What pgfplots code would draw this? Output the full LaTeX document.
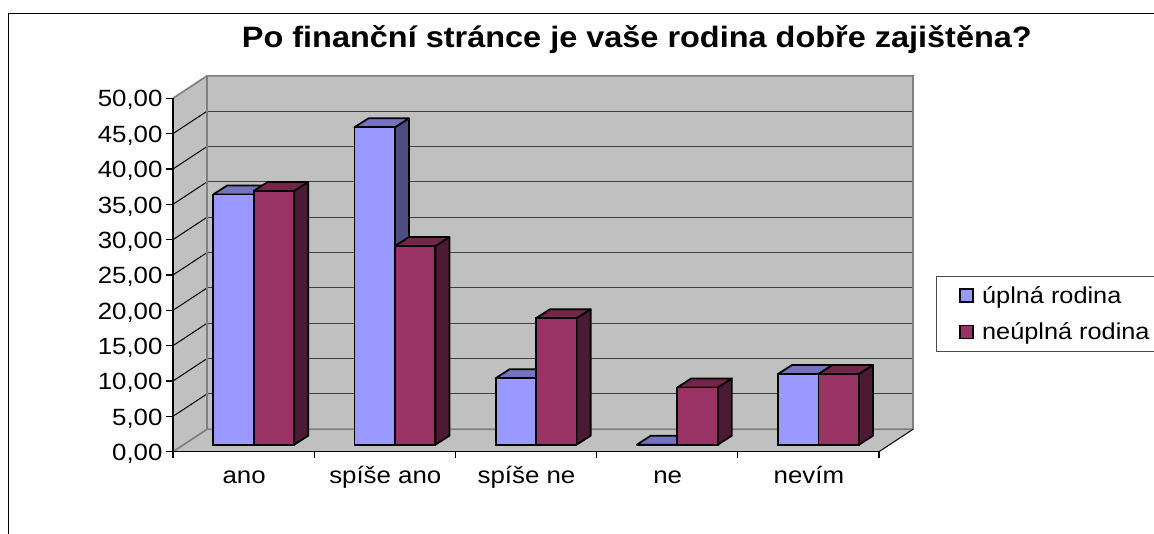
\documentclass[border=0pt]{standalone}
\usepackage{fontspec}
\setmainfont{Liberation Sans}[FakeStretch=1.1]
\usepackage{pgfplots}
\usepackage{pgfplotstable}
\pgfplotsset{compat=1.18}
\definecolor{wall}{HTML}{C0C0C0}
\definecolor{wedge}{HTML}{808080}
\definecolor{serA}{HTML}{9999FF}
\definecolor{serAs}{HTML}{4D4D80}
\definecolor{serAt}{HTML}{7373BF}
\definecolor{serB}{HTML}{993366}
\definecolor{serBs}{HTML}{4D1A33}
\definecolor{serBt}{HTML}{732649}
\pgfplotstableread{
i a b
0 35.4 35.9
1 44.9 28.1
2 9.4 17.9
3 0 8.1
4 10 10
}\datatable
% faces of one bar: {row}{column}{left edge offset}{side colour}{top colour}
\newcommand\barfaces[5]{%
  \pgfplotstablegetelem{#1}{#2}\of\datatable
  \pgfmathsetmacro\v{\pgfplotsretval}%
  \pgfmathsetmacro\xl{#1+#3}%
  \pgfmathsetmacro\xr{\xl+0.2868}%
  \pgfmathsetmacro\xlb{\xl+0.0992}%
  \pgfmathsetmacro\xrb{\xr+0.0992}%
  \pgfmathsetmacro\vb{\v+1.273}%
  \pgfmathsetmacro\zb{1.273}%
  \addplot[forget plot,fill=#4,draw=black,line width=1.8pt,line join=round]
    coordinates {(\xr,0) (\xrb,\zb) (\xrb,\vb) (\xr,\v)} --cycle;
  \addplot[forget plot,fill=#5,draw=black,line width=1.8pt,line join=round]
    coordinates {(\xl,\v) (\xlb,\vb) (\xrb,\vb) (\xr,\v)} --cycle;
}
\newcommand\tl{\fontsize{23.5}{25}\selectfont}
\begin{document}
\begin{tikzpicture}[x=1pt,y=1pt]
\useasboundingbox (0,0) rectangle (1154,534);
\draw[black,line width=1.2pt] (8.5,0) -- (8.5,520.7) -- (1154,520.7);
\begin{axis}[
  at={(173pt,82.3pt)},anchor=south west,
  scale only axis,width=706pt,height=353.4pt,
  xmin=0,xmax=5,ymin=0,ymax=50,clip=false,
  axis x line=bottom,axis y line=left,
  axis line style={-,black,line width=1.2pt},
  axis on top,
  xtick={0.5,1.5,2.5,3.5,4.5},
  xticklabels={ano,spíše ano,spíše ne,ne,nevím},
  minor xtick={0,1,2,3,4,5},
  ytick={0,5,...,50},
  tick align=outside,
  major x tick style={draw=none},
  major y tick style={black,line width=1.2pt},
  minor x tick style={black,line width=1.2pt},
  major tick length=7pt,minor tick length=6pt,
  tick label style={font=\tl},
  xticklabel style={yshift=-4pt,text height=17pt,text depth=5pt,xshift=0.5pt},
  yticklabel style={yshift=-2pt,/pgf/number format/.cd,fixed,fixed zerofill,precision=2,use comma,assume math mode=true},
  title={\fontsize{29.5}{32}\selectfont\bfseries Po finanční stránce je vaše rodina dobře zajištěna?},
  title style={at={(axis description cs:0.657,1.15)},anchor=center},
]
\addplot[fill=wall,draw=none] coordinates {(0.2408,3.17) (5.2408,3.17) (5.2408,53.17) (0.2408,53.17)} --cycle;
\addplot[fill=wall,draw=none] coordinates {(0,0) (0.2408,3.17) (0.2408,53.17) (0,50)} --cycle;
\addplot[fill=wall,draw=none] coordinates {(0,0) (5,0) (5.2408,3.17) (0.2408,3.17)} --cycle;
\pgfplotsinvokeforeach{5,10,...,45}{
  \pgfmathsetmacro\yb{#1+3.17}
  \addplot[black!75,line width=1.1pt] coordinates {(0.2408,\yb) (5.2408,\yb)};
  \addplot[black,line width=1pt] coordinates {(0,#1) (0.2408,\yb)};
}
\addplot[wedge,line width=1.7pt] coordinates {(0,50) (0.2408,53.17) (5.2408,53.17) (5.2408,3.17) (0.2408,3.17) (0,0)};
\addplot[wedge,line width=1.7pt] coordinates {(0.2408,53.17) (0.2408,3.17)};
\addplot[black,line width=1pt] coordinates {(5,0) (5.2408,3.17)};
\end{axis}
\begin{axis}[
  at={(173pt,82.3pt)},anchor=south west,
  scale only axis,width=706pt,height=353.4pt,
  xmin=-0.5715,xmax=4.4285,ymin=-0.99,ymax=49.01,clip=false,
  hide axis,
  legend style={at={(axis description cs:1.0804,0.498)},anchor=north west,
    draw=black!70,line width=1.2pt,font=\fontsize{23}{24}\selectfont,legend cell align=left,
    inner xsep=23pt,inner ysep=8pt,row sep=14pt,
    /tikz/every odd column/.append style={column sep=6pt}},
  legend image code/.code={\draw[#1,line width=1.8pt] (0pt,-6.5pt) rectangle (13pt,6.5pt);},
]
\pgfplotsinvokeforeach{0,1,2,3,4}{\barfaces{#1}{a}{-0.2868}{serAs}{serAt}}
\addplot[ybar,fill=serA,draw=black,line width=1.8pt,bar width=0.2868,bar shift=-0.1434] table[x=i,y=a] {\datatable};
\addlegendentry{úplná rodina}
\pgfplotsinvokeforeach{0,1,2,3,4}{\barfaces{#1}{b}{0}{serBs}{serBt}}
\addplot[ybar,fill=serB,draw=black,line width=1.8pt,bar width=0.2868,bar shift=0.1434] table[x=i,y=b] {\datatable};
\addlegendentry{neúplná rodina}
\end{axis}
\end{tikzpicture}
\end{document}
